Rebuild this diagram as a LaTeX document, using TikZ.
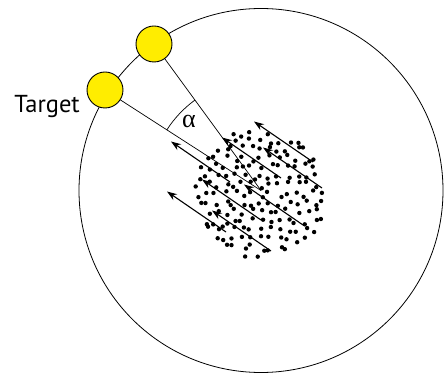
\documentclass[tikz,border=0pt]{standalone}
\usepackage{fontspec}
\setmainfont{PT Sans}
\newfontfamily\greekfont{Liberation Serif}
\usetikzlibrary{arrows.meta}
\definecolor{targetyellow}{RGB}{255,237,0}

\begin{document}
\begin{tikzpicture}[x=1pt,y=1pt,
  target/.style={circle,draw,fill=targetyellow,minimum size=36pt,inner sep=0pt,line width=0.9pt},
  beam/.style={line width=1.1pt,-{Stealth[length=10pt,width=7pt]}}]
\useasboundingbox (-261,-183.5) rectangle (185,190.5);
% detector ring
\draw[line width=0.8pt] (0,0) circle (182);
\coordinate (centre) at (0,0);
% dot cloud
\pgfmathsetseed{12}
\foreach \i in {-8,...,8}
  \foreach \j in {-8,...,8}{
    \pgfmathsetmacro\dx{9*\i+3.5*rand}
    \pgfmathsetmacro\dy{9*\j+3.5*rand-3.5}
    \pgfmathtruncatemacro\inside{(\dx*\dx+(\dy+3.5)*(\dy+3.5)<4350)?1:0}
    \ifnum\inside=1 \fill (\dx,\dy) circle (2.2); \fi
  }
% beams
\foreach \x/\y in {52/28.5, 61/2.5, -31/8.5, 20/12.5, 0/-29.5, 42/-34.5, -35/-41.5, 10/-60.5}
  \draw[beam] (\x,\y) -- ++(-59,40.5);
% targets
\coordinate (t1) at (-107,146.5);
\coordinate (t2) at (-156,100.5);
\draw[line width=0.7pt] (t1) -- (centre);
\draw[line width=0.7pt] (t2) -- (centre);
\draw[line width=0.7pt] (centre) ++(126.1:112) arc (126.1:147.2:112);
\node[target] (target1) at (t1) {};
\node[target] (target2) at (t2) {};
\node[anchor=base east,inner sep=0pt,font=\fontsize{24.5}{28}\selectfont] (label) at (-181,77.8) {Target};
\node[font=\fontsize{26}{30}\greekfont] (angle) at (-72,69.5) {α};
\end{tikzpicture}
\end{document}
